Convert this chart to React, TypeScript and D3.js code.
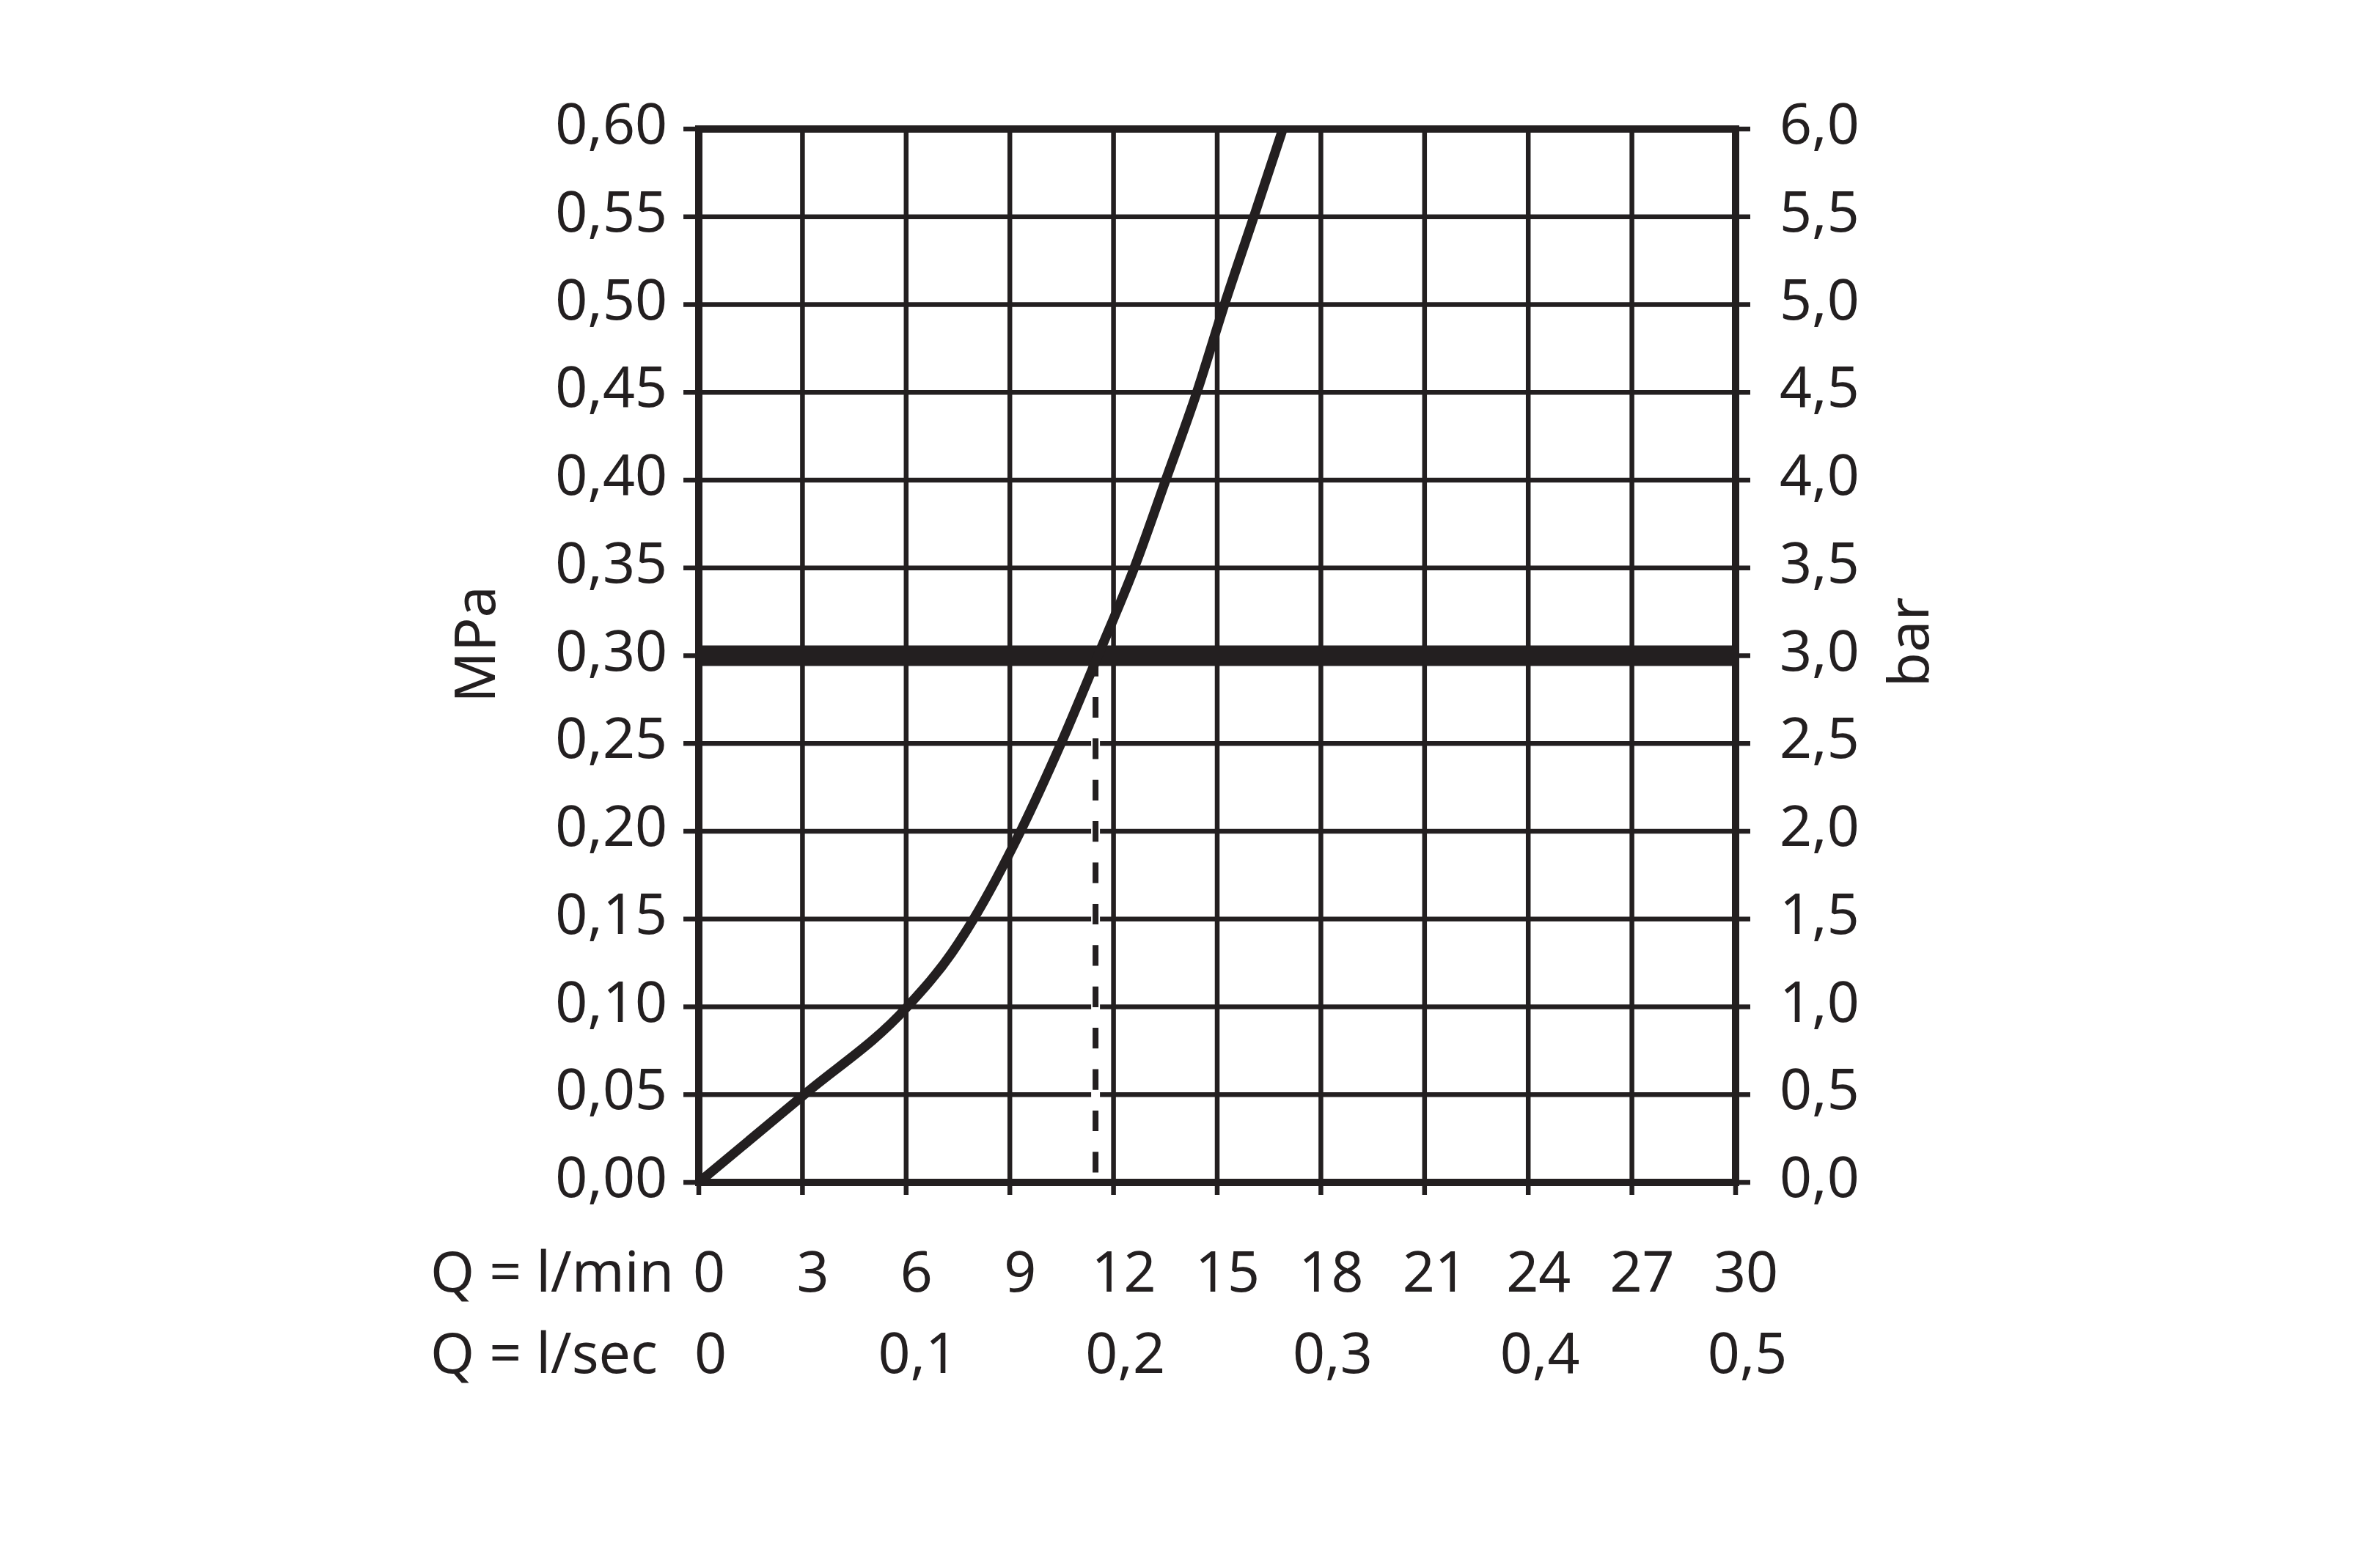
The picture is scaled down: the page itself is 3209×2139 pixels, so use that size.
import React from "react";
import * as d3 from "d3";

const flowLpm = [0, 3.05, 6.03, 7.32, 7.95, 9.31, 10.48, 11.55, 12.6, 13.51, 14.41, 15.21, 16.06, 16.9];
const pressureMPa = [0, 0.05, 0.1, 0.1307, 0.15, 0.2, 0.25, 0.3, 0.35, 0.4, 0.45, 0.5, 0.55, 0.6];
const mpaTicks = [0, 0.05, 0.1, 0.15, 0.2, 0.25, 0.3, 0.35, 0.4, 0.45, 0.5, 0.55, 0.6];
const barTicks = [0, 0.5, 1, 1.5, 2, 2.5, 3, 3.5, 4, 4.5, 5, 5.5, 6];
const lpmTicks = [0, 3, 6, 9, 12, 15, 18, 21, 24, 27, 30];
const lsecTicks = [0, 0.1, 0.2, 0.3, 0.4, 0.5];
const markedPressure = 0.3;
const markedFlow = 11.48;

const INK = "#231f20";
const FONT = "'Noto Sans', sans-serif";

export default function App() {
  const x = d3.scaleLinear().domain([0, 30]).range([953, 2367]);
  const xs = d3.scaleLinear().domain([0, 0.5]).range([953, 2367]);
  const y = d3.scaleLinear().domain([0, 0.6]).range([1613, 176]);
  const yb = d3.scaleLinear().domain([0, 6]).range([1613, 176]);
  const comma = (f: string) => (v: number) => d3.format(f)(v).replace(".", ",");
  const f2 = comma(".2f");
  const f1 = comma(".1f");

  const pts = flowLpm.map((q, i) => [q, pressureMPa[i]] as [number, number]);
  const line = d3
    .line<[number, number]>()
    .x((d) => x(d[0]))
    .y((d) => y(d[1]))
    .curve(d3.curveMonotoneX);

  const [x0, x1] = x.range();
  const [y0, y1] = y.range();
  const fs = 77;

  return (
    <svg
      width={3209}
      height={2139}
      style={{ position: "absolute", left: 0, top: 0, background: "#fff" }}
      fontFamily={FONT}
    >
      <rect x={0} y={0} width={3209} height={2139} fill="#fff" />
      {/* horizontal grid + side ticks */}
      {mpaTicks.map((t) => (
        <line key={"h" + t} x1={x0 - 21} x2={x1 + 20} y1={y(t)} y2={y(t)} stroke={INK} strokeWidth={6.5} />
      ))}
      {/* vertical grid + bottom ticks */}
      {lpmTicks.map((t) => (
        <line key={"v" + t} x1={x(t)} x2={x(t)} y1={y1} y2={y0 + 17} stroke={INK} strokeWidth={6.5} />
      ))}
      {/* frame */}
      <rect x={x0} y={y1} width={x1 - x0} height={y0 - y1} fill="none" stroke={INK} strokeWidth={10} />
      {/* thick line at marked pressure */}
      <line x1={x0} x2={x1} y1={y(markedPressure)} y2={y(markedPressure)} stroke={INK} strokeWidth={28} />
      {/* dashed drop line */}
      <line
        x1={x(markedFlow)}
        x2={x(markedFlow)}
        y1={y(markedPressure) + 16}
        y2={y(0) - 5}
        stroke="#fff"
        strokeWidth={12}
      />
      <line
        x1={x(markedFlow)}
        x2={x(markedFlow)}
        y1={y(markedPressure)}
        y2={y(0)}
        stroke={INK}
        strokeWidth={8}
        strokeDasharray="28.2,28.2"
      />
      {/* curve */}
      <path d={line(pts) || ""} fill="none" stroke={INK} strokeWidth={13} strokeLinecap="butt" />

      {/* left labels */}
      {mpaTicks.map((t) => (
        <text key={"l" + t} x={910} y={y(t) + 20} textAnchor="end" fontSize={fs} fill={INK}>
          {f2(t)}
        </text>
      ))}
      {/* right labels */}
      {barTicks.map((t) => (
        <text key={"r" + t} x={2427} y={yb(t) + 20} textAnchor="start" fontSize={fs} fill={INK}>
          {f1(t)}
        </text>
      ))}
      {/* bottom labels */}
      {lpmTicks.map((t) => (
        <text key={"b" + t} x={x(t) + 14} y={1762} textAnchor="middle" fontSize={fs} fill={INK}>
          {String(t)}
        </text>
      ))}
      {lsecTicks.map((t) => (
        <text key={"s" + t} x={xs(t) + 16} y={1873} textAnchor="middle" fontSize={fs} fill={INK}>
          {t === 0 ? "0" : f1(t)}
        </text>
      ))}
      <text x={587} y={1762} fontSize={fs} fill={INK}>
        Q = l/min
      </text>
      <text x={587} y={1873} fontSize={fs} fill={INK}>
        Q = l/sec
      </text>
      {/* axis titles */}
      <text transform="translate(675,879) rotate(-90)" textAnchor="middle" fontSize={fs} fill={INK}>
        MPa
      </text>
      <text transform="translate(2630,876) rotate(-90)" textAnchor="middle" fontSize={fs} fill={INK}>
        bar
      </text>
    </svg>
  );
}
